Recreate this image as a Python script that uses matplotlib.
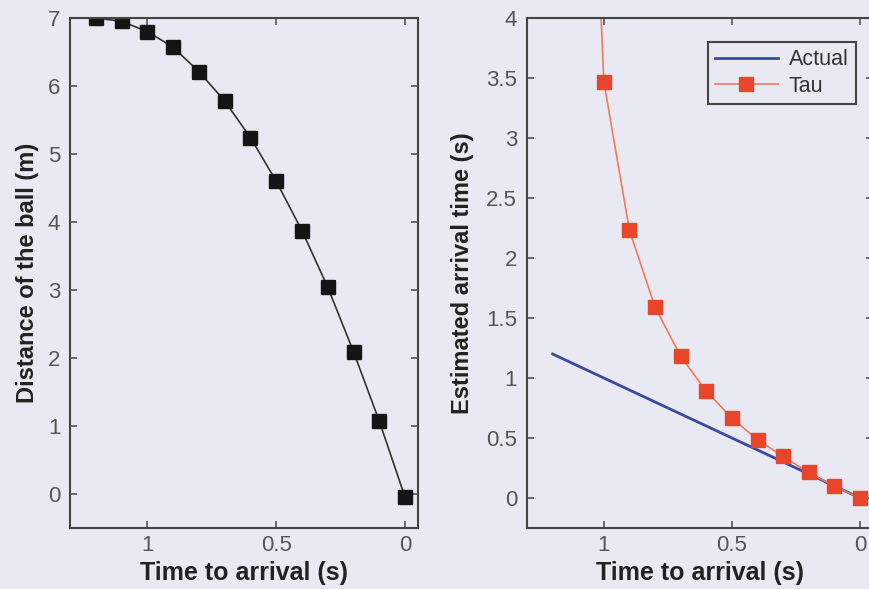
import numpy as np
import matplotlib
matplotlib.use("Agg")
import matplotlib.pyplot as plt

# time to arrival (s) for each sample
t_dist = [1.2, 1.1, 1.0, 0.9, 0.8, 0.7, 0.6, 0.5, 0.4, 0.3, 0.2, 0.1, 0.0]
# distance of the ball at each sample (m)
distance = [7.0, 6.95, 6.80, 6.57, 6.21, 5.78, 5.24, 4.60, 3.87, 3.04, 2.09, 1.07, -0.05]

# actual arrival time vs tau estimate
t_actual = [1.2, 0.0]
actual = [1.2, 0.0]
t_tau = [1.1, 1.0, 0.9, 0.8, 0.7, 0.6, 0.5, 0.4, 0.3, 0.2, 0.1, 0.0]
tau = [8.6, 3.47, 2.23, 1.59, 1.18, 0.89, 0.665, 0.485, 0.346, 0.213, 0.097, 0.0]

bg = "#e9e9f3"
plt.rcParams['font.family'] = ['Liberation Sans', 'DejaVu Sans']

fig = plt.figure(figsize=(8.69, 5.89), dpi=100, facecolor=bg)
ax1 = fig.add_axes([0.0806, 0.1036, 0.4004, 0.8659])
ax2 = fig.add_axes([0.6064, 0.1036, 0.3980, 0.8659])


def style(ax):
    ax.set_facecolor(bg)
    for s in ax.spines.values():
        s.set_color("#444444")
        s.set_linewidth(1.5)
    ax.tick_params(direction="in", length=5, width=1.2, color="#555555",
                   labelsize=16, labelcolor="#555555", top=True, right=True)
    ax.tick_params(axis="x", pad=5)
    ax.tick_params(axis="y", pad=7)
    ax.set_xlabel("Time to arrival (s)", fontsize=18, fontweight="bold",
                  color="#222222", labelpad=4)


ax1.plot(t_dist, distance, color="#333333", lw=1.2, marker="s", ms=10.5,
         mfc="#151515", mec="#151515")
ax1.set_xlim(1.3, -0.05)
ax1.set_ylim(-0.5, 7)
ax1.set_xticks([1, 0.5, 0])
ax1.set_xticklabels(["1", "0.5", "0"])
ax1.set_yticks(range(0, 8))
style(ax1)
ax1.set_ylabel("Distance of the ball (m)", fontsize=17, fontweight="bold",
               color="#222222", labelpad=6)

ax2.plot(t_actual, actual, color="#3b4aa0", lw=2, label="Actual")
ax2.plot(t_tau, tau, color="#f07a5a", lw=1.2, marker="s", ms=10.5,
         mfc="#e8452a", mec="#e8452a", label="Tau")
ax2.set_xlim(1.3, -0.05)
ax2.set_ylim(-0.25, 4)
ax2.set_xticks([1, 0.5, 0])
ax2.set_xticklabels(["1", "0.5", "0"])
ax2.set_yticks(np.arange(0, 4.01, 0.5))
ax2.set_yticklabels(["0", "0.5", "1", "1.5", "2", "2.5", "3", "3.5", "4"])
style(ax2)
ax2.set_ylabel("Estimated arrival time (s)", fontsize=17, fontweight="bold",
               color="#222222", labelpad=9)
leg = ax2.legend(loc="upper right", bbox_to_anchor=(0.951, 0.953),
                 borderaxespad=0, fontsize=15.5, fancybox=False, framealpha=1,
                 facecolor=bg, edgecolor="#444444", handlelength=2.9,
                 borderpad=0.35, labelspacing=0.25, handletextpad=0.5)
leg.get_frame().set_linewidth(1.5)
for txt in leg.get_texts():
    txt.set_color("#333333")

fig.savefig("out.png", dpi=100, facecolor=bg)
